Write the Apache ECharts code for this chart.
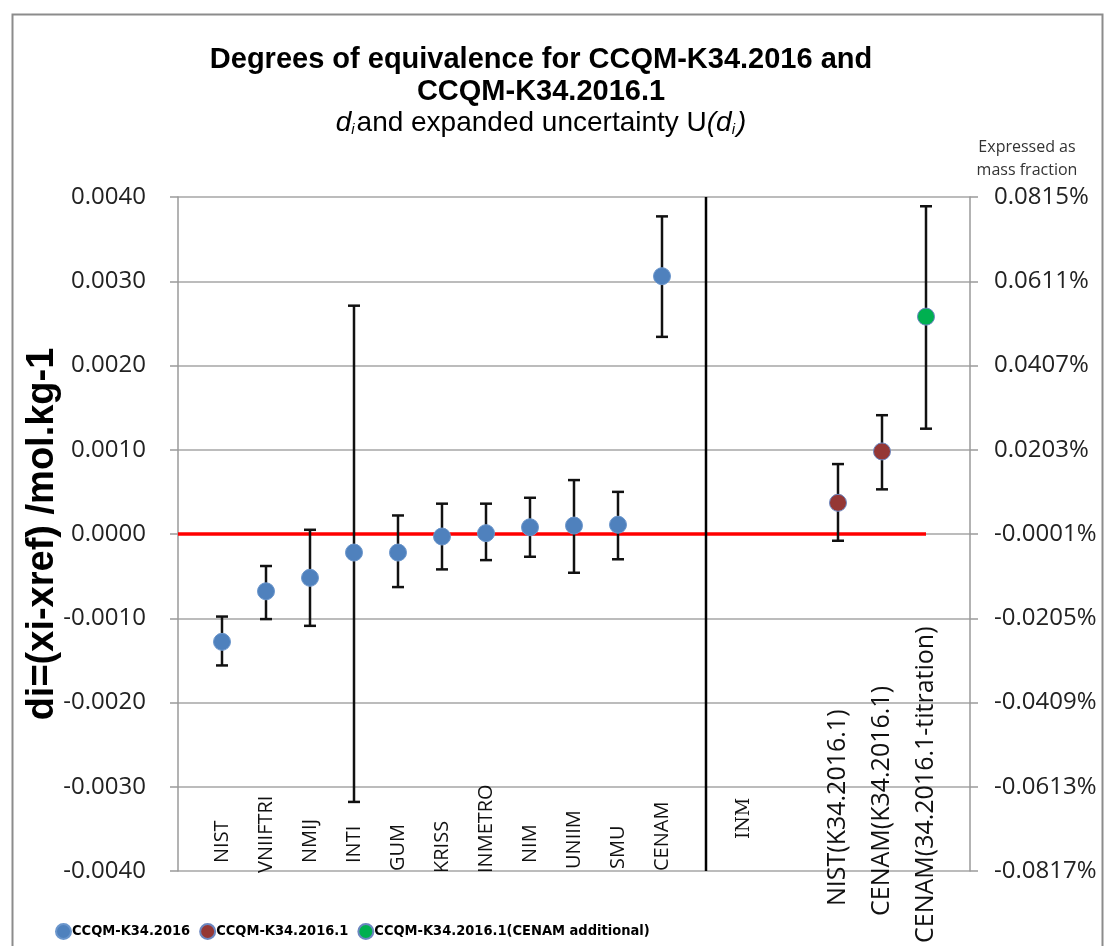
<!DOCTYPE html>
<html>
<head>
<meta charset="utf-8">
<script src="https://cdn.jsdelivr.net/npm/echarts@6/dist/echarts.min.js"></script>
<style>
html,body{margin:0;padding:0;background:#fff}
#main{width:1105px;height:946px}
</style>
</head>
<body>
<div id="main"></div>
<script>
// slot positions along the x axis (0 and 18 are the empty ends)
var categories = ['', 'NIST', 'VNIIFTRI', 'NMIJ', 'INTI', 'GUM', 'KRISS', 'INMETRO', 'NIM', 'UNIIM', 'SMU', 'CENAM',
                  '', 'INM', '', 'NIST(K34.2016.1)', 'CENAM(K34.2016.1)', 'CENAM(34.2016.1-titration)', ''];

// CCQM-K34.2016
var k34Slots  = [1, 2, 3, 4, 5, 6, 7, 8, 9, 10, 11];
var k34Values = [-0.00128, -0.00068, -0.00052, -0.00022, -0.00022, -0.00003, 0.00001, 0.00008, 0.00010, 0.00011, 0.00306];
var k34Low    = [-0.00156, -0.00101, -0.00109, -0.00318, -0.00063, -0.00042, -0.00031, -0.00027, -0.00046, -0.00030, 0.00234];
var k34High   = [-0.00098, -0.00038, 0.00005, 0.00271, 0.00022, 0.00036, 0.00036, 0.00043, 0.00064, 0.00050, 0.00377];

// CCQM-K34.2016.1
var k341Slots  = [15, 16];
var k341Values = [0.00037, 0.00098];
var k341Low    = [-0.00008, 0.00053];
var k341High   = [0.00083, 0.00141];

// CCQM-K34.2016.1 (CENAM additional)
var addSlots  = [17];
var addValues = [0.00258];
var addLow    = [0.00125];
var addHigh   = [0.00389];

var rightTickLabels = ['-0.0817%', '-0.0613%', '-0.0409%', '-0.0205%', '-0.0001%', '0.0203%', '0.0407%', '0.0611%', '0.0815%'];
var refLine = [[0, 0], [17, 0]];
var dividerLine = [[12, -0.004], [12, 0.004]];

// label layout: px below the plot bottom where each rotated label starts
var labelDrop = [0, -8, 2, -8, -8, 0, 2, 2, -8, -2, -2, 0, 0, -32, 0, 35, 45, 72, 0];

function points(slots, vals) {
  return slots.map(function (s, i) { return [s, vals[i]]; });
}
function bars(slots, lo, hi) {
  return slots.map(function (s, i) { return [s, lo[i], hi[i]]; });
}

function errorBar(params, api) {
  var x = api.value(0);
  var top = api.coord([x, api.value(2)]);
  var bot = api.coord([x, api.value(1)]);
  var st = { stroke: '#111', lineWidth: 2.5 };
  return {
    type: 'group',
    children: [
      { type: 'line', shape: { x1: top[0], y1: top[1], x2: bot[0], y2: bot[1] }, style: st },
      { type: 'line', shape: { x1: top[0] - 6, y1: top[1], x2: top[0] + 6, y2: top[1] }, style: st },
      { type: 'line', shape: { x1: bot[0] - 6, y1: bot[1], x2: bot[0] + 6, y2: bot[1] }, style: st }
    ]
  };
}

function slotLabel(params, api) {
  var slot = api.value(0);
  var name = categories[slot];
  var pt = api.coord([slot, -0.004]);
  var font = '20px "Open Sans"';
  var dx = 0;
  if (slot >= 15) font = '25px "Open Sans"';
  if (name === 'INM') { font = '18px "DejaVu Serif"'; dx = -6; }
  return {
    type: 'text',
    x: pt[0] + dx,
    y: pt[1] + labelDrop[slot],
    rotation: Math.PI / 2,
    style: { text: name, x: 0, y: 0, align: 'left', verticalAlign: 'middle', font: font, fill: '#111' }
  };
}

var labelData = [];
categories.forEach(function (c, i) { if (c) labelData.push([i]); });

var myChart = echarts.init(document.getElementById('main'));
var option = {
  backgroundColor: '#fff',
  animation: false,
  title: [
    {
      text: 'Degrees of equivalence for CCQM-K34.2016 and\nCCQM-K34.2016.1',
      left: 536, top: 39, textAlign: 'center',
      textStyle: { fontFamily: 'Liberation Sans', fontWeight: 'bold', fontSize: 29, lineHeight: 32, color: '#000' }
    },
    {
      text: '{d|d}{s|i}{n|and expanded uncertainty U}{d|(d}{s|i}{d|)}',
      left: 536, top: 103, textAlign: 'center',
      textStyle: {
        fontWeight: 'normal',
        rich: {
          n: { fontFamily: 'Liberation Sans', fontWeight: 'normal', fontSize: 28, color: '#000', lineHeight: 30 },
          d: { fontFamily: 'Liberation Sans', fontWeight: 'normal', fontStyle: 'italic', fontSize: 28, color: '#000', lineHeight: 30 },
          s: { fontFamily: 'Liberation Sans', fontWeight: 'normal', fontStyle: 'italic', fontSize: 15, color: '#000', lineHeight: 30, padding: [14, 2, 0, 0] }
        }
      }
    },
    {
      text: 'Expressed as\nmass fraction',
      left: 1022, top: 131, textAlign: 'center',
      textStyle: { fontFamily: 'Open Sans', fontWeight: 'normal', fontSize: 16, lineHeight: 23, color: '#333' }
    }
  ],
  legend: {
    data: ['CCQM-K34.2016', 'CCQM-K34.2016.1', 'CCQM-K34.2016.1(CENAM additional)'],
    left: 55, top: 923, padding: 0,
    itemWidth: 15, itemHeight: 15, itemGap: 9,
    icon: 'circle',
    textStyle: {
      fontFamily: '"Liberation Sans Narrow", "DejaVu Sans Condensed", "Liberation Sans", sans-serif',
      fontWeight: 'bold', fontSize: 14.5, color: '#000', padding: [0, 0, 0, -4]
    }
  },
  grid: { left: 178, right: 135, top: 197, bottom: 75 },
  xAxis: { type: 'value', min: 0, max: 18, show: false },
  yAxis: [
    {
      type: 'value', min: -0.004, max: 0.004, interval: 0.001, position: 'left',
      name: 'di=(xi-xref) /mol.kg-1', nameLocation: 'middle', nameGap: 116, nameMoveOverlap: false,
      nameTextStyle: { fontFamily: 'Liberation Sans', fontWeight: 'bold', fontSize: 38, color: '#000' },
      axisLine: { show: true, lineStyle: { color: '#9a9a9a', width: 1.5 } },
      axisTick: { show: true, length: 8, lineStyle: { color: '#9a9a9a', width: 1.5 } },
      axisLabel: {
        margin: 32, fontFamily: 'Open Sans', fontSize: 24, color: '#222',
        formatter: function (v) { return Math.abs(v) < 1e-9 ? '0.0000' : v.toFixed(4); }
      },
      splitLine: { lineStyle: { color: '#a6a6a6', width: 1.5 } }
    },
    {
      type: 'value', min: -0.004, max: 0.004, interval: 0.001, position: 'right',
      axisLine: { show: true, lineStyle: { color: '#9a9a9a', width: 1.5 } },
      axisTick: { show: true, length: 8, lineStyle: { color: '#9a9a9a', width: 1.5 } },
      axisLabel: {
        margin: 24, fontFamily: 'Open Sans', fontSize: 24, color: '#222',
        formatter: function (v) { return rightTickLabels[Math.round((v + 0.004) / 0.001)]; }
      },
      splitLine: { show: false }
    }
  ],
  series: [
    {
      name: 'zero', type: 'line', data: refLine, symbol: 'none', silent: true, z: 3,
      lineStyle: { color: '#ff0000', width: 3.5 }
    },
    {
      name: 'divider', type: 'line', data: dividerLine, symbol: 'none', silent: true, z: 3,
      lineStyle: { color: '#000', width: 2.5 }
    },
    { name: 'errK34', type: 'custom', renderItem: errorBar, data: bars(k34Slots, k34Low, k34High), encode: { x: 0, y: [1, 2] }, z: 4, silent: true },
    { name: 'errK341', type: 'custom', renderItem: errorBar, data: bars(k341Slots, k341Low, k341High), encode: { x: 0, y: [1, 2] }, z: 4, silent: true },
    { name: 'errAdd', type: 'custom', renderItem: errorBar, data: bars(addSlots, addLow, addHigh), encode: { x: 0, y: [1, 2] }, z: 4, silent: true },
    {
      name: 'CCQM-K34.2016', type: 'scatter', data: points(k34Slots, k34Values), symbolSize: 17, z: 5,
      itemStyle: { color: '#4f81bd', borderColor: '#6b96cc', borderWidth: 1, opacity: 1 }
    },
    {
      name: 'CCQM-K34.2016.1', type: 'scatter', data: points(k341Slots, k341Values), symbolSize: 17, z: 5,
      itemStyle: { color: '#953735', borderColor: '#6b86c0', borderWidth: 1, opacity: 1 }
    },
    {
      name: 'CCQM-K34.2016.1(CENAM additional)', type: 'scatter', data: points(addSlots, addValues), symbolSize: 17, z: 5,
      itemStyle: { color: '#00b050', borderColor: '#6b86c0', borderWidth: 1, opacity: 1 }
    },
    {
      name: 'labels', type: 'custom', renderItem: slotLabel, data: labelData, encode: { x: 0 },
      clip: false, silent: true, z: 6
    }
  ],
  graphic: [
    {
      type: 'rect', left: 10, top: 12, silent: true,
      shape: { width: 1090, height: 960 },
      style: { fill: 'none', stroke: '#8c8c8c', lineWidth: 2 }
    }
  ]
};
myChart.setOption(option);
</script>
</body>
</html>
